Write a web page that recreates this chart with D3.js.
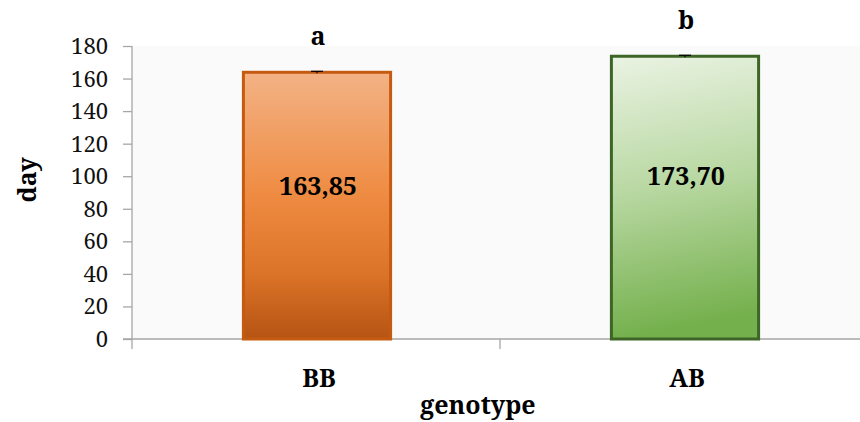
<!DOCTYPE html>
<html><head><meta charset="utf-8">
<script src="https://cdn.jsdelivr.net/npm/d3@7"></script>
<style>body{margin:0;background:#fff}svg{display:block}</style>
</head><body>
<svg id="c" width="860" height="422"></svg>
<script>
const categories = ["BB", "AB"];
const values = [163.85, 173.70];
const errors = [0.6, 0.6];
const valueLabels = ["163,85", "173,70"];
const letters = ["a", "b"];
const yTicks = [0, 20, 40, 60, 80, 100, 120, 140, 160, 180];

const svg = d3.select("#c");
const L = 132, R = 868, T = 46, B = 339;
const x = d3.scaleBand().domain(categories).range([L, R]).paddingInner(0).paddingOuter(0);
const y = d3.scaleLinear().domain([0, 180]).range([B, T]);
const defs = svg.append("defs");
const g1 = defs.append("linearGradient").attr("id","gBB").attr("x1",0).attr("y1",0).attr("x2",0).attr("y2",1);
[[0,"#f3b285"],[0.45,"#ef8c43"],[0.75,"#dc7428"],[1,"#b65414"]].forEach(s=>g1.append("stop").attr("offset",s[0]).attr("stop-color",s[1]));
const g2 = defs.append("linearGradient").attr("id","gAB").attr("x1",0).attr("y1",0).attr("x2",0.1).attr("y2",1);
[[0,"#eaf3e3"],[0.5,"#b7d7a0"],[1,"#74b04c"]].forEach(s=>g2.append("stop").attr("offset",s[0]).attr("stop-color",s[1]));
const fills = ["url(#gBB)", "url(#gAB)"];
const strokes = ["#c55a11", "#3d6526"];

svg.append("rect").attr("x", L).attr("y", T).attr("width", 860 - L).attr("height", B - T).attr("fill", "#fafafa");

const font = "'Noto Serif','Liberation Serif',serif";
// y axis
const yAx = svg.append("g").attr("transform", `translate(${L},0)`).call(d3.axisLeft(y).tickValues(yTicks).tickSize(9).tickPadding(15));
yAx.attr("font-family", null).attr("font-size", null);
yAx.select(".domain").attr("stroke", "#a6a6a6").attr("stroke-width", 1.3).attr("d", `M0,${T}V${B+10}`);
yAx.selectAll(".tick line").attr("stroke", "#a6a6a6").attr("stroke-width", 1.3);
yAx.selectAll(".tick text").style("font-family", font).style("font-size", "22px").attr("fill", "#111").attr("dy", "0.34em");

// x axis
const xAx = svg.append("g").attr("transform", `translate(0,${B})`);
xAx.append("line").attr("x1", L - 9).attr("x2", 860).attr("y1", 0).attr("y2", 0).attr("stroke", "#a6a6a6").attr("stroke-width", 1.3);
xAx.append("line").attr("x1", x.bandwidth() + L).attr("x2", x.bandwidth() + L).attr("y1", 0).attr("y2", 10).attr("stroke", "#a6a6a6").attr("stroke-width", 1.3);

const bw = x.bandwidth() * 0.4;
const bold = sel => sel.style("font-family", font).style("font-weight", "bold").style("font-size", "25px").attr("text-anchor", "middle");
categories.forEach((c, i) => {
  const cx = x(c) + x.bandwidth() / 2 + 1;
  svg.append("rect").attr("x", cx - bw / 2).attr("y", y(values[i])).attr("width", bw).attr("height", y(0) - y(values[i]))
    .attr("fill", fills[i]).attr("stroke", strokes[i]).attr("stroke-width", 3);
  // error bar
  svg.append("line").attr("x1", cx).attr("x2", cx).attr("y1", y(values[i] + errors[i])).attr("y2", y(values[i] - errors[i])).attr("stroke", "#000").attr("stroke-width", 1.2);
  svg.append("line").attr("x1", cx - 6).attr("x2", cx + 6).attr("y1", y(values[i] + errors[i])).attr("y2", y(values[i] + errors[i])).attr("stroke", "#000").attr("stroke-width", 1.2);
  svg.append("text").attr("x", cx + 1).attr("y", y(values[i] * 0.575) + 9).call(bold).text(valueLabels[i]);
  svg.append("text").attr("x", cx + 1).attr("y", y(values[i]) - 27).call(bold).text(letters[i]);
  svg.append("text").attr("x", cx + 2).attr("y", 387).call(bold).text(c);
});

svg.append("text").attr("x", 478).attr("y", 414).call(bold).text("genotype");
svg.append("text").attr("transform", "translate(36,180) rotate(-90)").call(bold).text("day");
</script>
</body></html>
